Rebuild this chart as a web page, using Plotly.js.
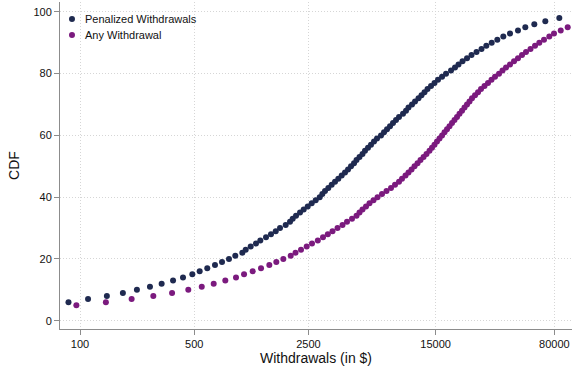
<!DOCTYPE html>
<html>
<head>
<meta charset="utf-8">
<script src="https://cdn.plot.ly/plotly-3.0.1.min.js"></script>
<style>
  html, body { margin: 0; padding: 0; background: #ffffff; }
  #chart { width: 573px; height: 375px; }
</style>
</head>
<body>
<div id="chart"></div>
<script>
// Cumulative share (percent) of withdrawals at or below each amount
const penalizedPct = [6,7,8,9,10,11,12,13,14,15,16,17,18,19,20,21,22,23,24,25,26,27,28,29,30,
  31,32,33,34,35,36,37,38,39,40,41,42,43,44,45,46,47,48,49,50,51,52,53,54,55,56,57,58,59,60,
  61,62,63,64,65,66,67,68,69,70,71,72,73,74,75,76,77,78,79,80,81,82,83,84,85,86,87,88,89,90,
  91,92,93,94,95,96,97,98];
const penalizedAmt = [85,112,146,183,223,268,316,371,427,487,540,601,670,740,816,892,985,1033,1108,1194,
  1269,1375,1475,1577,1675,1815,1929,2003,2099,2221,2339,2475,2618,2770,2931,3041,3158,3308,3470,3636,
  3809,3996,4186,4368,4556,4753,4923,5134,5356,5548,5788,6037,6299,6570,6951,7253,7566,7893,8233,8589,
  8960,9478,9888,10240,10760,11230,11790,12300,12830,13390,14070,14770,15520,16430,17380,18650,19720,20720,21930,23360,
  24890,26710,28660,30670,33080,35800,38960,42820,47910,53120,60310,70410,85780];

const anyPct = [5,6,7,8,9,10,11,12,13,14,15,16,17,18,19,20,21,22,23,24,25,26,27,28,29,30,
  31,32,33,34,35,36,37,38,39,40,41,42,43,44,45,46,47,48,49,50,51,52,53,54,55,56,57,58,59,60,
  61,62,63,64,65,66,67,68,69,70,71,72,73,74,75,76,77,78,79,80,81,82,83,84,85,86,87,88,89,90,
  91,92,93,94,95];
const anyAmt = [95,144,207,281,366,460,556,658,775,901,1009,1140,1282,1441,1590,1755,1948,2084,2252,2440,
  2629,2853,3070,3285,3510,3767,4042,4305,4620,4923,5134,5356,5627,5911,6254,6617,7050,7511,8005,8469,
  8960,9346,9818,10240,10690,11150,11630,12130,12660,13200,13770,14260,14770,15300,15850,16430,17010,17620,18250,18910,
  19580,20290,21010,21770,22550,23360,24190,25060,26150,27280,28460,29890,31400,32990,34660,36670,38520,40470,42820,45310,
  47910,50700,53640,57150,60910,64700,69140,74490,79600,87490,96540];

const xTicks = [100, 500, 2500, 15000, 80000];
const xTickText = ['100', '500', '2500', '15000', '80000'];
const yTicks = [0, 20, 40, 60, 80, 100];

const seriesNames = ['Penalized Withdrawals', 'Any Withdrawal'];
const seriesColors = ['#1f2a50', '#7b1a7e'];

const FONT = '"Liberation Sans", Arial, Helvetica, sans-serif';

const traces = [
  {
    type: 'scatter', mode: 'markers', name: seriesNames[0],
    x: penalizedAmt, y: penalizedPct,
    marker: { color: seriesColors[0], size: 6 },
    showlegend: false
  },
  {
    type: 'scatter', mode: 'markers', name: seriesNames[1],
    x: anyAmt, y: anyPct,
    marker: { color: seriesColors[1], size: 6 },
    showlegend: false
  }
];

// key in the top-left corner of the plot area
const keyX = 0.0234, keyTextX = 0.045;
const keyY = [0.948, 0.899];
const shapes = seriesNames.map((n, i) => ({
  type: 'circle', xref: 'paper', yref: 'paper',
  xsizemode: 'pixel', ysizemode: 'pixel',
  xanchor: keyX, yanchor: keyY[i],
  x0: -3, x1: 3, y0: -3, y1: 3,
  fillcolor: seriesColors[i], line: { width: 0 }
}));
const annotations = seriesNames.map((n, i) => ({
  xref: 'paper', yref: 'paper', x: keyTextX, y: keyY[i],
  xanchor: 'left', yanchor: 'middle', showarrow: false,
  text: n, font: { family: FONT, size: 11, color: '#111111' }
}));

const axisCommon = {
  showgrid: true, gridcolor: '#d6d6d6', griddash: '1px,2px', gridwidth: 1,
  showline: true, linecolor: '#8c8c8c', linewidth: 1,
  ticks: 'outside', ticklen: 5, tickcolor: '#8c8c8c', tickwidth: 1,
  zeroline: false,
  tickfont: { family: FONT, size: 11, color: '#111111' }
};

const layout = {
  width: 573, height: 375,
  margin: { l: 60, r: 1, t: 2, b: 46 },
  paper_bgcolor: '#ffffff', plot_bgcolor: '#ffffff',
  font: { family: FONT, color: '#111111' },
  xaxis: Object.assign({}, axisCommon, {
    type: 'log', range: [1.8776, 5.011],
    tickmode: 'array', tickvals: xTicks, ticktext: xTickText,
    title: { text: 'Withdrawals (in $)', font: { family: FONT, size: 14, color: '#111111' }, standoff: 2 }
  }),
  yaxis: Object.assign({}, axisCommon, {
    range: [-2.69, 103.2],
    tickmode: 'array', tickvals: yTicks,
    title: { text: 'CDF', font: { family: FONT, size: 14, color: '#111111' }, standoff: 10 }
  }),
  shapes: shapes,
  annotations: annotations
};

Plotly.newPlot('chart', traces, layout, { displayModeBar: false, staticPlot: true });
</script>
</body>
</html>
